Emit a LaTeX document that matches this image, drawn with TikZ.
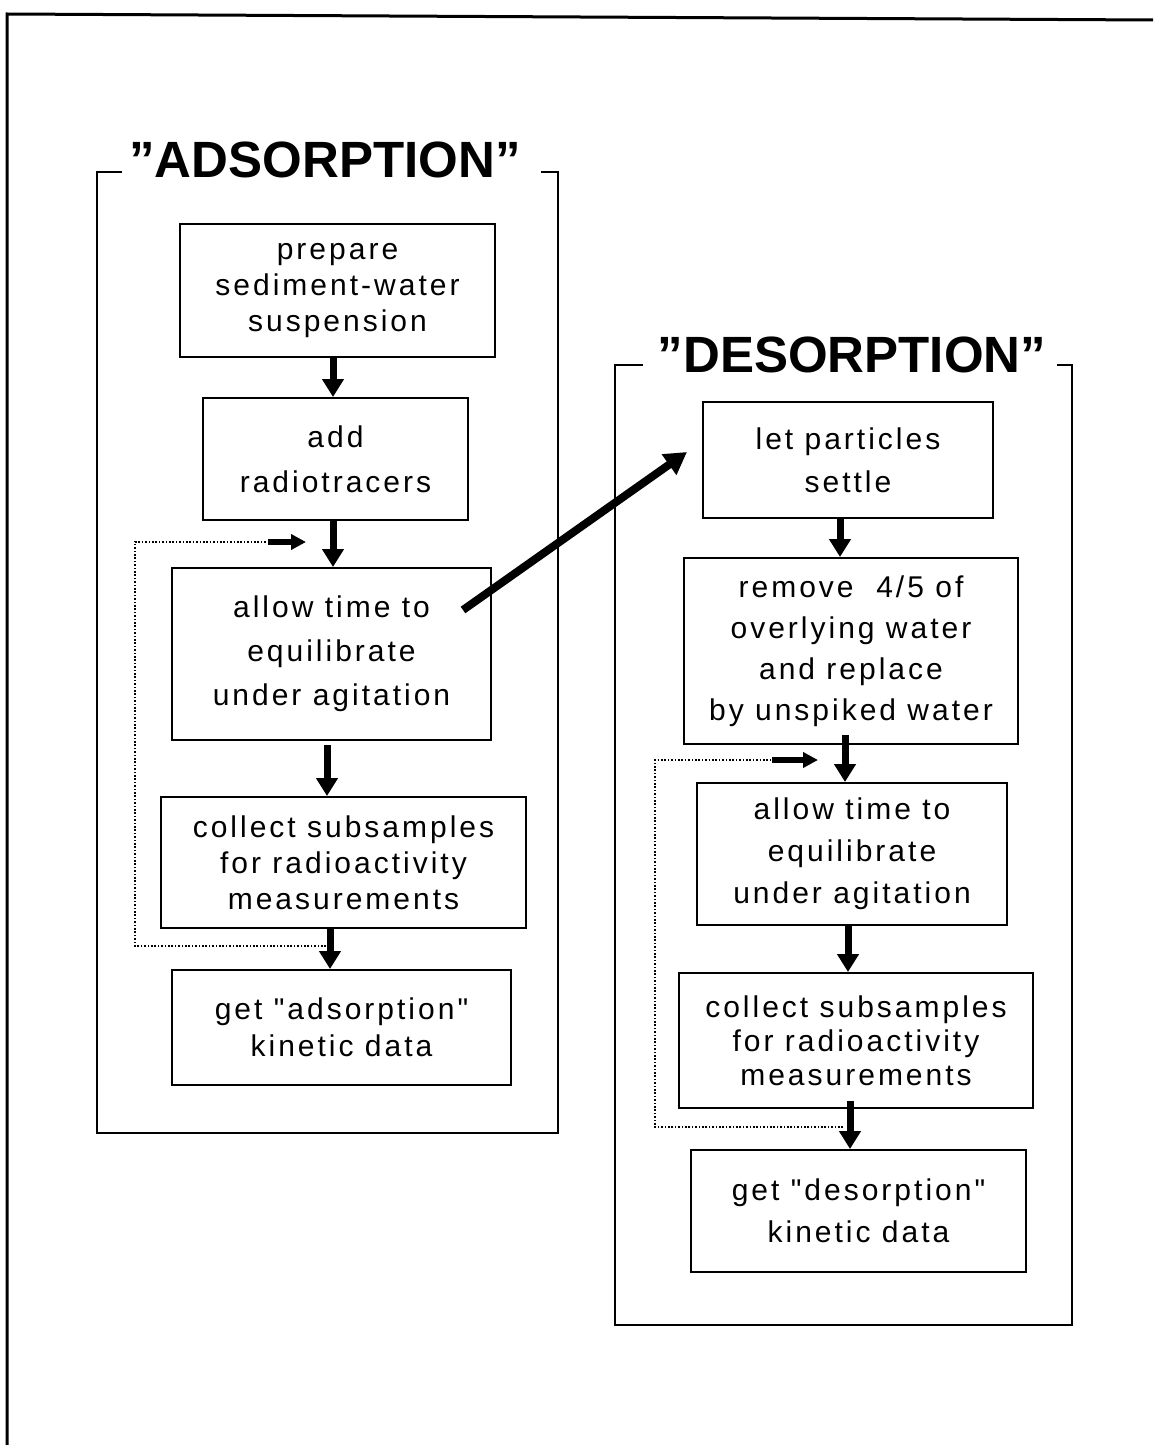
\documentclass[tikz,border=0pt]{standalone}
\usepackage{fontspec}
\setmainfont{Liberation Sans}
\newfontfamily\boxfont[LetterSpace=10]{Liberation Sans}
\usetikzlibrary{arrows.meta}
\tikzset{
  stepbox/.style={draw,line width=1pt,align=center,inner sep=0pt},
  lead/.style={font=\boxfont\fontsize{15pt}{#1}\selectfont},
  flow/.style={line width=3.5pt,-{Triangle[length=9pt,width=10.5pt]}},
  bigflow/.style={line width=4pt,-{Triangle[length=11pt,width=12pt]}},
  back/.style={line width=0.9pt,dash pattern=on 0.8pt off 0.9pt},
  backtip/.style={line width=2.6pt,-{Triangle[length=7.5pt,width=7.5pt]}},
  frame/.style={line width=1pt},
  phase/.style={font=\bfseries\fontsize{25.5pt}{30pt}\selectfont}
}

\begin{document}
\begin{tikzpicture}[x=0.5pt,y=-0.5pt]
  \useasboundingbox (0,0) rectangle (1153,1445);
  % page edge
  \draw[line width=1.5pt] (1153,20) -- (7,14) -- (7,1445);

  % adsorption side
  \node[phase] (atitle) at (325,160) {''ADSORPTION''};
  \draw[frame] (122,172) -- (97,172) -- (97,1133) -- (558,1133) -- (558,172) -- (541,172);
  \node[stepbox,lead=18pt,minimum width=157.5pt,minimum height=66.5pt] (a1) at (337.5,290.5)
    {prepare\\sediment-water\\suspension};
  \node[stepbox,lead=22.5pt,minimum width=132.5pt,minimum height=61pt] (a2) at (335.5,459)
    {add\\radiotracers};
  \node[stepbox,lead=22pt,minimum width=159.5pt,minimum height=86pt] (a3) at (331.5,654)
    {allow time to\\equilibrate\\under agitation};
  \node[stepbox,lead=18pt,minimum width=182.5pt,minimum height=65.5pt] (a4) at (343.5,862.5)
    {collect subsamples\\for radioactivity\\measurements};
  \node[stepbox,lead=18.5pt,minimum width=169.5pt,minimum height=57.5pt] (a5) at (341.5,1027.5)
    {get "adsorption"\\kinetic data};
  \draw[flow] (a1.south -| 333,0) -- (a2.north -| 333,0);
  \draw[flow] (a2.south -| 333,0) -- (a3.north -| 333,0);
  \draw[flow] ([yshift=-2pt]a3.south -| 327,0) -- (a4.north -| 327,0);
  \draw[flow] (a4.south -| 330,0) -- (a5.north -| 330,0);
  \draw[back] (a4.south -| 326,0) ++(0,17) -| (135,542) -- (268,542) coordinate (abacktip);
  \draw[backtip] (abacktip) -- ++(38,0);

  % desorption side
  \node[phase] (dtitle) at (852,355) {''DESORPTION''};
  \draw[frame] (643,365) -- (615,365) -- (615,1325) -- (1072,1325) -- (1072,365) -- (1057,365);
  \node[stepbox,lead=21.5pt,minimum width=145pt,minimum height=58pt] (d1) at (848,460)
    {let particles\\settle};
  \node[stepbox,lead=20.5pt,minimum width=167pt,minimum height=93pt] (d2) at (851,651)
    {remove\ \ 4/5 of\\overlying water\\and replace\\by unspiked water};
  \node[stepbox,lead=21pt,minimum width=155pt,minimum height=71pt] (d3) at (852,854)
    {allow time to\\equilibrate\\under agitation};
  \node[stepbox,lead=17pt,minimum width=177pt,minimum height=67.5pt] (d4) at (856,1040.5)
    {collect subsamples\\for radioactivity\\measurements};
  \node[stepbox,lead=21pt,minimum width=167.5pt,minimum height=61pt] (d5) at (858.5,1211)
    {get "desorption"\\kinetic data};
  \draw[flow] (d1.south -| 840,0) -- (d2.north -| 840,0);
  \draw[flow] ([yshift=5pt]d2.south -| 845,0) -- (d3.north -| 845,0);
  \draw[flow] (d3.south -| 848,0) -- (d4.north -| 848,0);
  \draw[flow] ([yshift=4pt]d4.south -| 850,0) -- (d5.north -| 850,0);
  \draw[back] (d4.south -| 843,0) ++(0,18) -| (655,760) -- (772,760) coordinate (dbacktip);
  \draw[backtip] (dbacktip) -- ++(46,0);

  % transfer to desorption
  \draw[bigflow] ([xshift=-14.5pt,yshift=22pt]a3.east) -- ([xshift=-7.5pt,yshift=4pt]d1.west);
\end{tikzpicture}
\end{document}
